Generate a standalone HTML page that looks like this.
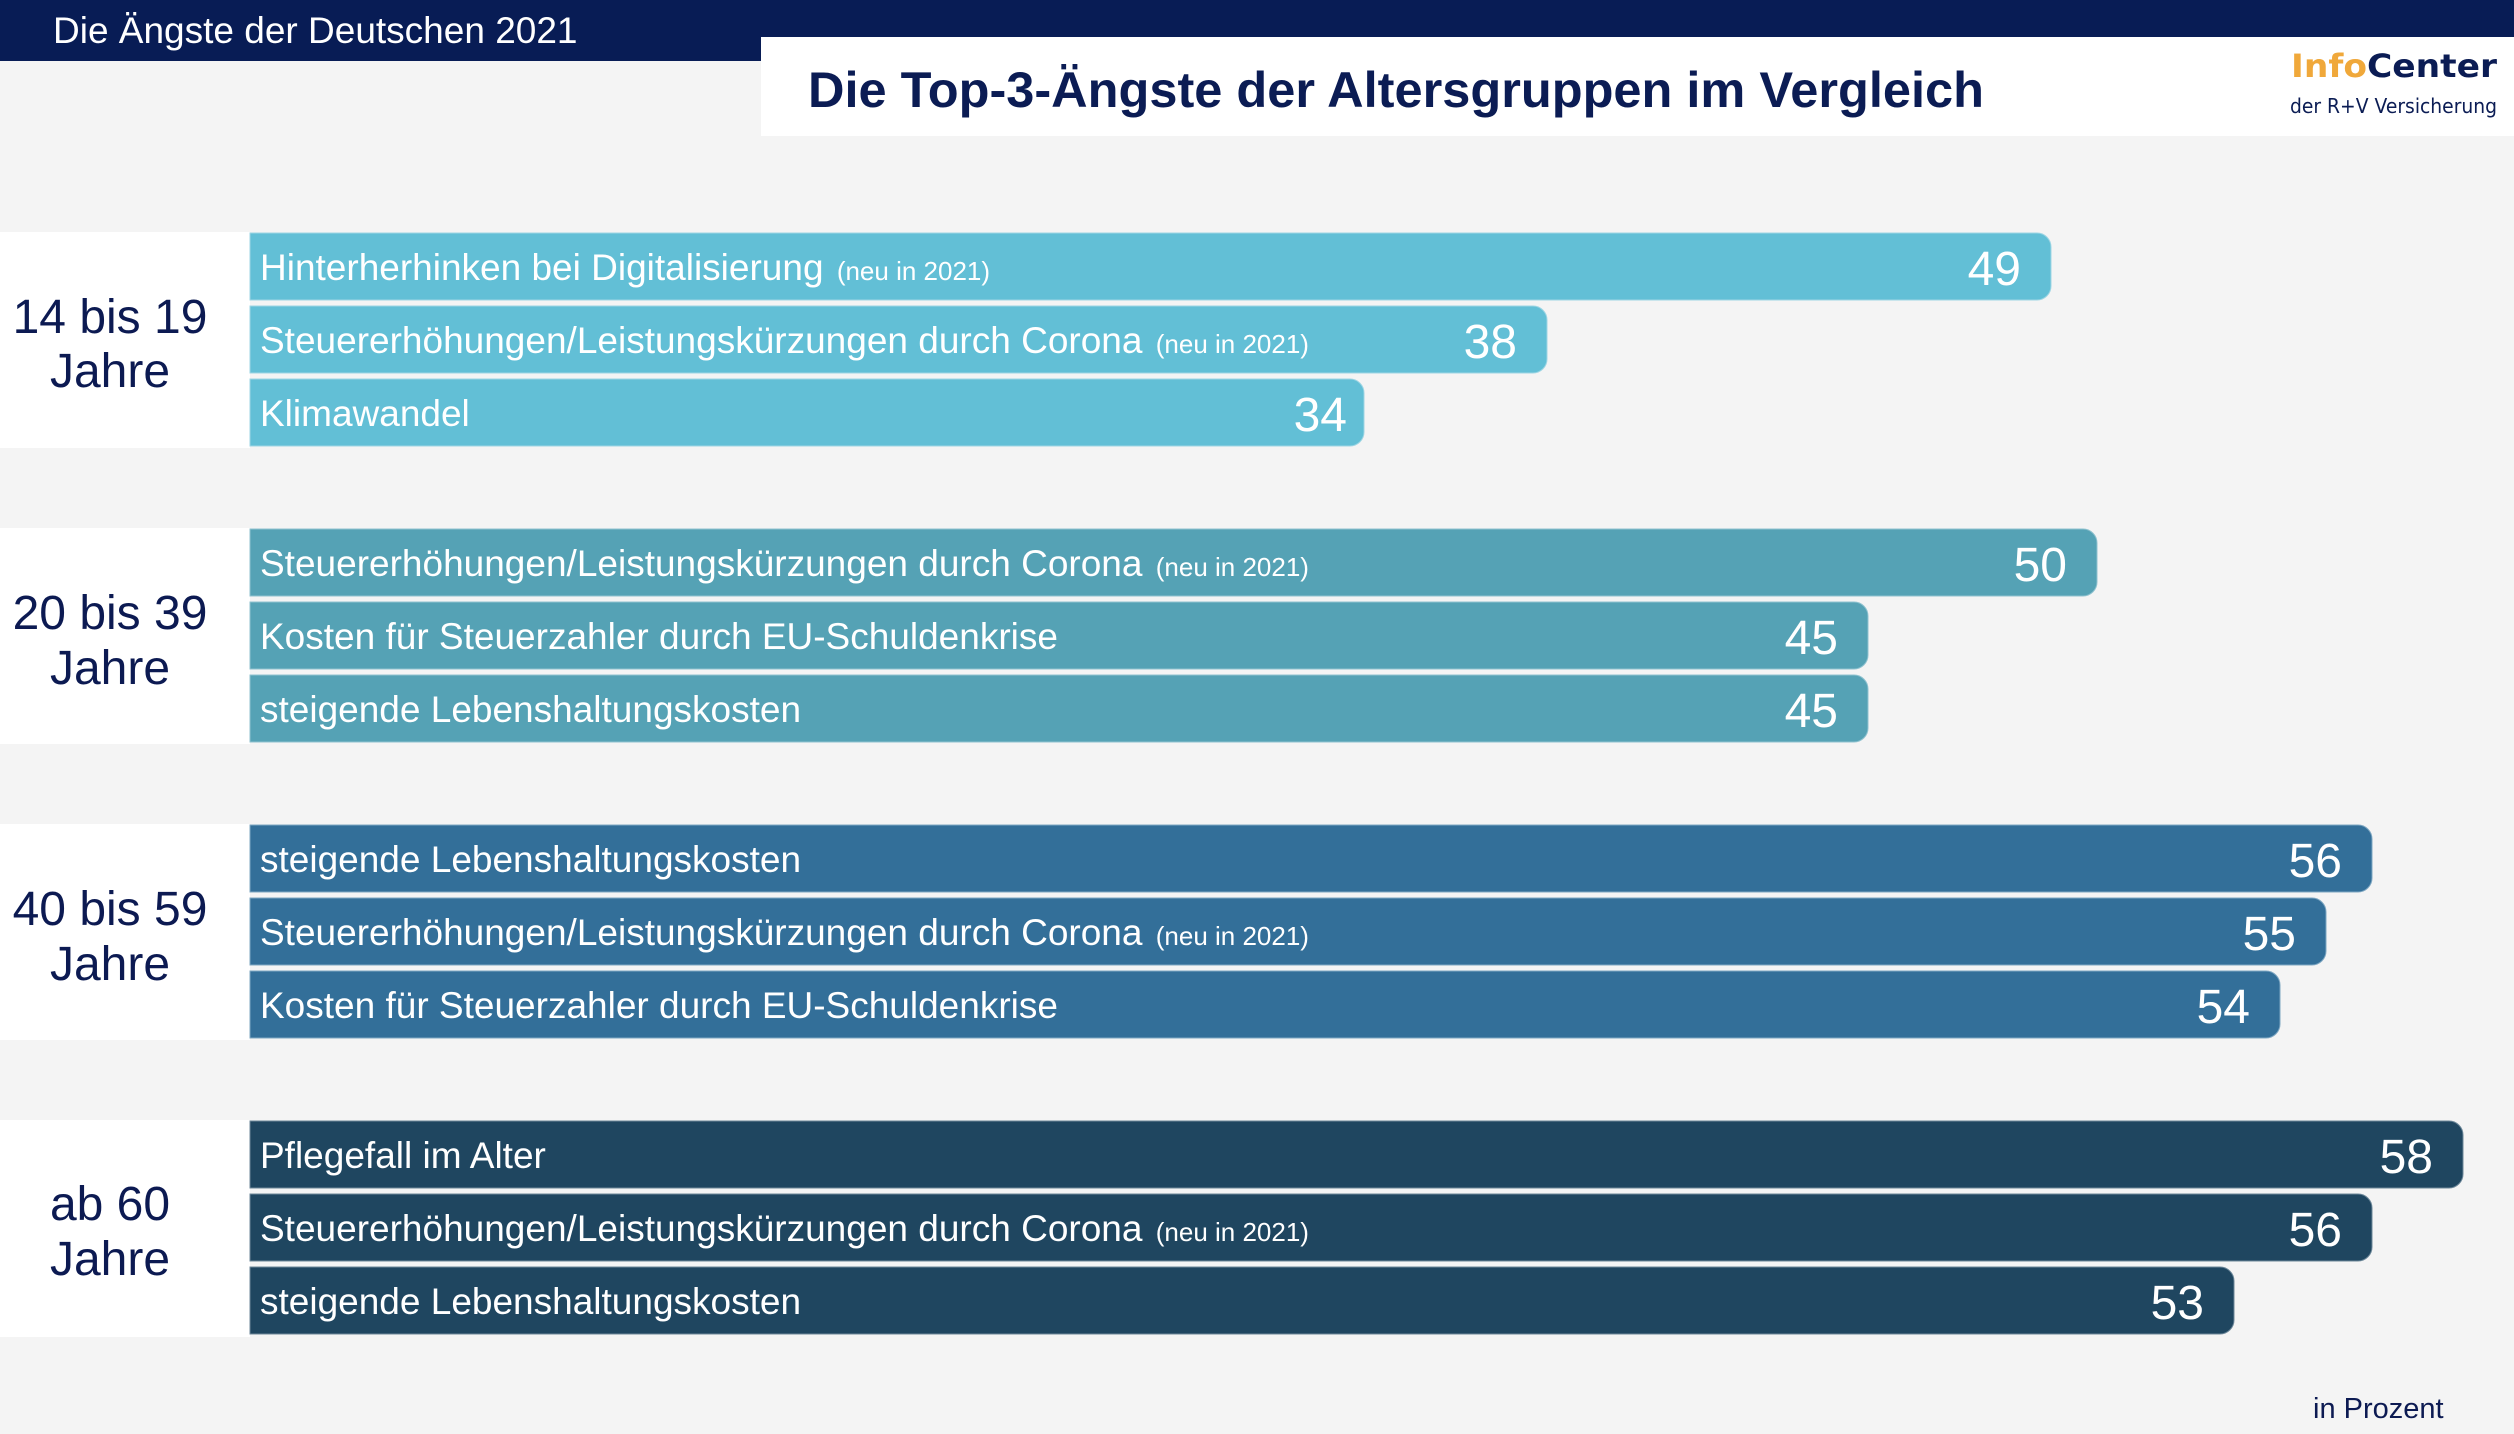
<!DOCTYPE html>
<html><head><meta charset="utf-8"><style>
html,body{margin:0;padding:0;background:#f4f4f4;}
svg{display:block;}
</style></head><body>
<svg width="2514" height="1434" viewBox="0 0 2514 1434" xmlns="http://www.w3.org/2000/svg" font-family="'Liberation Sans', Arial, sans-serif">
<rect x="0" y="0" width="2514" height="1434" fill="#f4f4f4"/>
<rect x="0" y="0" width="2514" height="37" fill="#081c55"/>
<rect x="0" y="0" width="761" height="61" fill="#081c55"/>
<rect x="761" y="37" width="1753" height="99" fill="#ffffff"/>
<text x="53" y="43" font-size="37" fill="#ffffff">Die Ängste der Deutschen 2021</text>
<text x="808" y="107" font-size="50" font-weight="bold" fill="#0b1c54" textLength="1176" lengthAdjust="spacingAndGlyphs">Die Top-3-Ängste der Altersgruppen im Vergleich</text>
<text x="2291" y="77" font-size="32" font-weight="bold" font-family="'DejaVu Sans', sans-serif" textLength="206" lengthAdjust="spacingAndGlyphs"><tspan fill="#f0a83a">Info</tspan><tspan fill="#0b1c54">Center</tspan></text>
<text x="2290" y="113" font-size="20" font-family="'DejaVu Sans', sans-serif" fill="#0b1c54" textLength="207" lengthAdjust="spacingAndGlyphs">der R+V Versicherung</text>

<!-- group boxes -->
<rect x="0" y="232" width="250" height="216" fill="#ffffff"/>
<rect x="0" y="528" width="250" height="216" fill="#ffffff"/>
<rect x="0" y="824" width="250" height="216" fill="#ffffff"/>
<rect x="0" y="1120" width="250" height="217" fill="#ffffff"/>

<g font-size="48" fill="#0c1a52" text-anchor="middle">
<text x="110" y="333">14 bis 19</text><text x="110" y="387">Jahre</text>
<text x="110" y="629">20 bis 39</text><text x="110" y="684">Jahre</text>
<text x="110" y="925">40 bis 59</text><text x="110" y="980">Jahre</text>
<text x="110" y="1220">ab 60</text><text x="110" y="1275">Jahre</text>
</g>

<!-- Group 1 -->
<g fill="#62bfd6" stroke="#9ed6e4" stroke-width="1">
<path d="M250,233 H2037 A14,14 0 0 1 2051,247 V286 A14,14 0 0 1 2037,300 H250 Z"/>
<path d="M250,306 H1533 A14,14 0 0 1 1547,320 V359 A14,14 0 0 1 1533,373 H250 Z"/>
<path d="M250,379 H1350 A14,14 0 0 1 1364,393 V432 A14,14 0 0 1 1350,446 H250 Z"/>
</g>
<!-- Group 2 -->
<g fill="#55a2b5" stroke="#8fc2cf" stroke-width="1">
<path d="M250,529 H2083 A14,14 0 0 1 2097,543 V582 A14,14 0 0 1 2083,596 H250 Z"/>
<path d="M250,602 H1854 A14,14 0 0 1 1868,616 V655 A14,14 0 0 1 1854,669 H250 Z"/>
<path d="M250,675 H1854 A14,14 0 0 1 1868,689 V728 A14,14 0 0 1 1854,742 H250 Z"/>
</g>
<!-- Group 3 -->
<g fill="#336f99" stroke="#7ea7c2" stroke-width="1">
<path d="M250,825 H2358 A14,14 0 0 1 2372,839 V878 A14,14 0 0 1 2358,892 H250 Z"/>
<path d="M250,898 H2312 A14,14 0 0 1 2326,912 V951 A14,14 0 0 1 2312,965 H250 Z"/>
<path d="M250,971 H2266 A14,14 0 0 1 2280,985 V1024 A14,14 0 0 1 2266,1038 H250 Z"/>
</g>
<!-- Group 4 -->
<g fill="#1f4660" stroke="#6c8799" stroke-width="1">
<path d="M250,1121 H2449 A14,14 0 0 1 2463,1135 V1174 A14,14 0 0 1 2449,1188 H250 Z"/>
<path d="M250,1194 H2358 A14,14 0 0 1 2372,1208 V1247 A14,14 0 0 1 2358,1261 H250 Z"/>
<path d="M250,1267 H2220 A14,14 0 0 1 2234,1281 V1320 A14,14 0 0 1 2220,1334 H250 Z"/>
</g>

<g font-size="37" fill="#ffffff">
<text x="260" y="280">Hinterherhinken bei Digitalisierung <tspan font-size="26" dx="3">(neu in 2021)</tspan></text>
<text x="260" y="353">Steuererhöhungen/Leistungskürzungen durch Corona <tspan font-size="26" dx="3">(neu in 2021)</tspan></text>
<text x="260" y="426">Klimawandel</text>

<text x="260" y="576">Steuererhöhungen/Leistungskürzungen durch Corona <tspan font-size="26" dx="3">(neu in 2021)</tspan></text>
<text x="260" y="649">Kosten für Steuerzahler durch EU-Schuldenkrise</text>
<text x="260" y="722">steigende Lebenshaltungskosten</text>

<text x="260" y="872">steigende Lebenshaltungskosten</text>
<text x="260" y="945">Steuererhöhungen/Leistungskürzungen durch Corona <tspan font-size="26" dx="3">(neu in 2021)</tspan></text>
<text x="260" y="1018">Kosten für Steuerzahler durch EU-Schuldenkrise</text>

<text x="260" y="1168">Pflegefall im Alter</text>
<text x="260" y="1241">Steuererhöhungen/Leistungskürzungen durch Corona <tspan font-size="26" dx="3">(neu in 2021)</tspan></text>
<text x="260" y="1314">steigende Lebenshaltungskosten</text>
</g>

<g font-size="48" fill="#ffffff" text-anchor="end">
<text x="2021" y="285">49</text>
<text x="1517" y="358">38</text>
<text x="1347" y="431">34</text>
<text x="2067" y="581">50</text>
<text x="1838" y="654">45</text>
<text x="1838" y="727">45</text>
<text x="2342" y="877">56</text>
<text x="2296" y="950">55</text>
<text x="2250" y="1023">54</text>
<text x="2433" y="1173">58</text>
<text x="2342" y="1246">56</text>
<text x="2204" y="1319">53</text>
</g>

<text x="2313" y="1418" font-size="29" fill="#0c1a52">in Prozent</text>
</svg>
</body></html>
